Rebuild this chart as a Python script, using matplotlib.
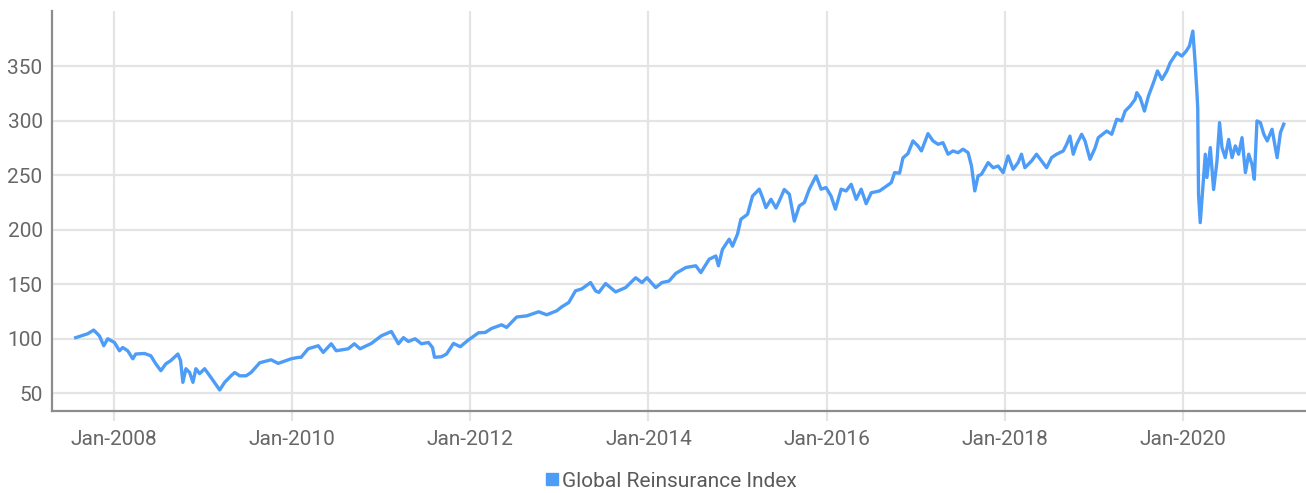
# Global Reinsurance Index, 2007-2021

import matplotlib.pyplot as plt
from matplotlib.lines import Line2D

plt.rcParams['font.family'] = ['Roboto', 'DejaVu Sans']

# dates as decimal years, index values
years = [
    2007.573, 2007.708, 2007.775, 2007.839, 2007.888, 2007.933, 2008.008, 2008.064,
    2008.101, 2008.157, 2008.214, 2008.247, 2008.345, 2008.416, 2008.472, 2008.529,
    2008.585, 2008.641, 2008.720, 2008.750, 2008.776, 2008.810, 2008.852, 2008.889,
    2008.922, 2008.964, 2009.020, 2009.091, 2009.189, 2009.245, 2009.316, 2009.358,
    2009.414, 2009.485, 2009.541, 2009.639, 2009.766, 2009.845, 2009.991, 2010.070,
    2010.103, 2010.182, 2010.295, 2010.351, 2010.441, 2010.497, 2010.632, 2010.700,
    2010.764, 2010.891, 2011.003, 2011.116, 2011.195, 2011.251, 2011.307, 2011.382,
    2011.453, 2011.532, 2011.577, 2011.600, 2011.678, 2011.735, 2011.813, 2011.889,
    2011.982, 2012.094, 2012.170, 2012.241, 2012.353, 2012.409, 2012.522, 2012.634,
    2012.769, 2012.859, 2012.972, 2013.028, 2013.107, 2013.182, 2013.253, 2013.351,
    2013.407, 2013.444, 2013.520, 2013.632, 2013.745, 2013.857, 2013.928, 2013.984,
    2014.082, 2014.153, 2014.232, 2014.307, 2014.420, 2014.532, 2014.589, 2014.682,
    2014.757, 2014.786, 2014.831, 2014.907, 2014.944, 2015.000, 2015.038, 2015.113,
    2015.169, 2015.244, 2015.281, 2015.319, 2015.376, 2015.432, 2015.469, 2015.525,
    2015.582, 2015.638, 2015.694, 2015.750, 2015.806, 2015.882, 2015.938, 2015.994,
    2016.050, 2016.099, 2016.163, 2016.219, 2016.276, 2016.332, 2016.388, 2016.444,
    2016.501, 2016.594, 2016.670, 2016.726, 2016.763, 2016.819, 2016.857, 2016.913,
    2016.969, 2017.025, 2017.064, 2017.138, 2017.194, 2017.251, 2017.306, 2017.363,
    2017.418, 2017.475, 2017.531, 2017.588, 2017.626, 2017.663, 2017.700, 2017.738,
    2017.813, 2017.869, 2017.925, 2017.981, 2018.037, 2018.093, 2018.149, 2018.187,
    2018.225, 2018.300, 2018.356, 2018.413, 2018.469, 2018.525, 2018.581, 2018.656,
    2018.694, 2018.731, 2018.768, 2018.806, 2018.862, 2018.900, 2018.956, 2019.012,
    2019.049, 2019.144, 2019.200, 2019.256, 2019.312, 2019.350, 2019.406, 2019.462,
    2019.481, 2019.519, 2019.567, 2019.612, 2019.668, 2019.713, 2019.763, 2019.819,
    2019.856, 2019.931, 2019.987, 2020.035, 2020.072, 2020.110, 2020.137, 2020.155,
    2020.165, 2020.174, 2020.193, 2020.230, 2020.250, 2020.268, 2020.306, 2020.343,
    2020.381, 2020.410, 2020.437, 2020.474, 2020.512, 2020.550, 2020.587, 2020.624,
    2020.662, 2020.700, 2020.737, 2020.774, 2020.800, 2020.830, 2020.868, 2020.907,
    2020.945, 2020.999, 2021.056, 2021.093, 2021.130,
]
index_values = [
    101.0, 104.6, 108.0, 102.7, 93.6, 100.0, 96.6, 89.0,
    92.0, 89.0, 81.6, 86.0, 86.5, 84.4, 77.0, 70.7,
    77.0, 80.0, 86.0, 80.0, 60.0, 72.5, 69.0, 60.0,
    72.5, 68.0, 72.5, 64.5, 53.0, 60.0, 66.0, 69.0,
    66.0, 66.0, 69.0, 78.0, 80.7, 77.4, 81.6, 82.9,
    83.0, 90.8, 93.6, 87.5, 95.4, 89.0, 90.8, 95.4,
    90.8, 95.7, 102.7, 106.7, 95.4, 101.0, 97.5, 100.0,
    95.4, 96.6, 92.0, 83.0, 83.5, 86.0, 95.7, 92.7,
    99.0, 105.5, 105.8, 109.5, 112.8, 110.4, 120.0, 121.0,
    124.8, 122.0, 125.7, 129.3, 133.3, 144.0, 145.8, 151.6,
    144.0, 142.5, 150.7, 143.0, 147.0, 156.0, 151.6, 156.0,
    147.0, 151.6, 153.0, 160.0, 165.4, 167.0, 160.8, 173.0,
    176.0, 167.0, 182.0, 191.4, 185.0, 196.0, 209.7, 214.3,
    231.0, 237.3, 229.6, 220.4, 228.0, 220.0, 226.5, 237.0,
    232.7, 208.0, 222.0, 225.0, 237.3, 249.5, 237.3, 238.8,
    231.0, 219.0, 237.3, 235.7, 241.8, 228.0, 237.3, 224.0,
    234.0, 235.7, 240.0, 243.3, 252.5, 252.0, 266.0, 270.0,
    281.6, 277.0, 272.4, 288.3, 281.6, 278.5, 280.0, 269.4,
    272.4, 270.8, 274.0, 270.8, 258.6, 235.7, 249.5, 251.0,
    261.7, 257.0, 258.6, 252.5, 267.8, 255.6, 261.7, 269.4,
    257.0, 263.2, 269.4, 263.2, 257.0, 266.3, 269.4, 272.4,
    278.5, 286.0, 269.4, 278.5, 287.7, 281.6, 264.8, 275.0,
    284.6, 290.7, 287.7, 301.5, 300.0, 309.0, 313.6, 319.8,
    325.9, 321.3, 309.0, 322.8, 335.0, 345.8, 338.0, 345.8,
    353.4, 362.6, 359.5, 364.0, 368.7, 382.4, 352.0, 327.4,
    312.0, 232.7, 206.6, 248.0, 269.4, 248.0, 275.5, 237.0,
    263.0, 298.4, 275.5, 266.3, 283.0, 266.3, 277.0, 269.4,
    284.6, 252.5, 269.4, 260.0, 246.4, 300.0, 298.4, 287.7,
    281.6, 292.3, 266.3, 289.2, 297.0,
]

x_ticks = [2008, 2010, 2012, 2014, 2016, 2018, 2020]
x_tick_labels = ['Jan-2008', 'Jan-2010', 'Jan-2012', 'Jan-2014',
                 'Jan-2016', 'Jan-2018', 'Jan-2020']
y_ticks = [50, 100, 150, 200, 250, 300, 350]
series_name = 'Global Reinsurance Index'

line_color = '#4d9cf8'
grid_color = '#e4e4e4'
text_color = '#676767'

fig = plt.figure(figsize=(13.06, 4.93), dpi=100)
ax = fig.add_axes([0.040, 0.167, 0.960, 0.811])

ax.plot(years, index_values, color=line_color, linewidth=2.4, solid_joinstyle='round')

ax.set_xlim(2007.31, 2021.38)
ax.set_ylim(34, 401)
ax.set_xticks(x_ticks)
ax.set_xticklabels(x_tick_labels)
ax.set_yticks(y_ticks)

ax.grid(True, color=grid_color, linewidth=1.6)
ax.set_axisbelow(True)

for side in ['top', 'right']:
    ax.spines[side].set_visible(False)
for side in ['left', 'bottom']:
    ax.spines[side].set_color('#8c8c8c')
    ax.spines[side].set_linewidth(1.6)

ax.tick_params(axis='x', length=7, width=1.6, color=grid_color, pad=7,
               labelsize=15, labelcolor=text_color)
ax.tick_params(axis='y', length=0, pad=7, labelsize=15, labelcolor=text_color)

# legend with a small square swatch under the plot
handle = Line2D([], [], marker='s', linestyle='none', markersize=8,
                markerfacecolor=line_color, markeredgecolor=line_color)
leg = fig.legend([handle], [series_name], loc='center', bbox_to_anchor=(0.513, 0.024),
                 frameon=False, handletextpad=0.1, handlelength=0.8,
                 prop={'size': 15})
for t in leg.get_texts():
    t.set_color('#5a5a5a')

fig.savefig('out.png', dpi=100)
print('created plot out.png')
